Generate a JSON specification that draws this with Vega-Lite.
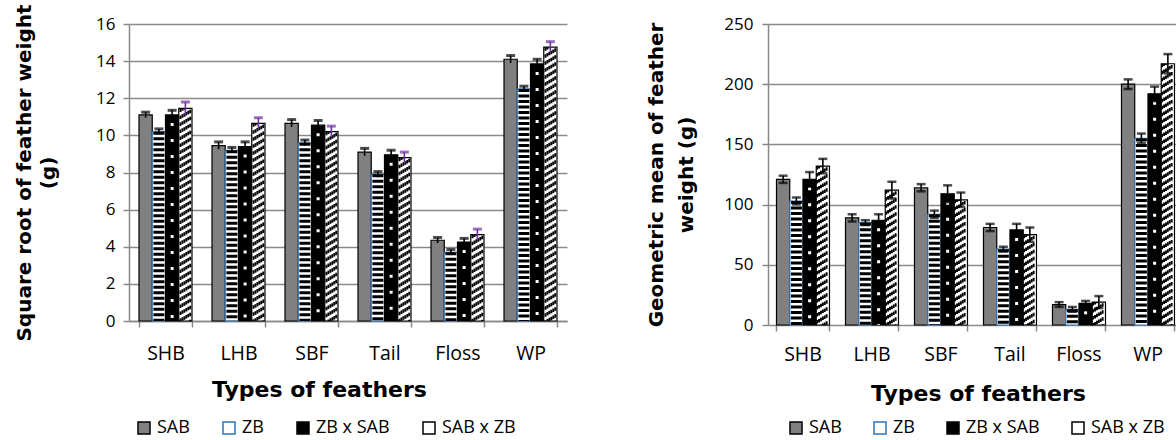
{
  "$schema": "https://vega.github.io/schema/vega-lite/v6.json",
  "padding": {"left": 14, "top": 3, "right": 0, "bottom": 0},
  "spacing": 79,
  "config": {
    "view": {"stroke": null},
    "font": "Open Sans",
    "axis": {
      "labelFont": "Open Sans", "labelColor": "#000",
      "titleFont": "DejaVu Sans", "titleFontWeight": "bold", "titleColor": "#000",
      "domainColor": "#888", "tickColor": "#888", "gridColor": "#8a8a8a",
      "domainWidth": 1.5, "tickWidth": 1.5, "gridWidth": 1.4, "tickSize": 6
    },
    "axisX": {"grid": false, "labelAngle": 0, "labelFontSize": 19.5, "titleFontSize": 22},
    "axisY": {"grid": true, "labelFontSize": 17, "titleFontSize": 20},
    "legend": {"labelFont": "Open Sans", "labelFontSize": 18, "labelColor": "#000"}
  },
  "resolve": {
    "scale": {"fill": "independent", "stroke": "independent"},
    "legend": {"fill": "independent", "stroke": "independent"}
  },
  "datasets": {
    "sqrt": [
      {"cat": "SHB", "series": "SAB", "value": 11.1, "lo": 10.95, "hi": 11.25},
      {"cat": "SHB", "series": "ZB", "value": 10.2, "lo": 10.05, "hi": 10.35},
      {"cat": "SHB", "series": "ZB x SAB", "value": 11.1, "lo": 10.85, "hi": 11.35},
      {"cat": "SHB", "series": "SAB x ZB", "value": 11.45, "lo": 11.1, "hi": 11.8},
      {"cat": "LHB", "series": "SAB", "value": 9.45, "lo": 9.25, "hi": 9.65},
      {"cat": "LHB", "series": "ZB", "value": 9.2, "lo": 9.05, "hi": 9.35},
      {"cat": "LHB", "series": "ZB x SAB", "value": 9.4, "lo": 9.15, "hi": 9.65},
      {"cat": "LHB", "series": "SAB x ZB", "value": 10.65, "lo": 10.35, "hi": 10.95},
      {"cat": "SBF", "series": "SAB", "value": 10.65, "lo": 10.45, "hi": 10.85},
      {"cat": "SBF", "series": "ZB", "value": 9.6, "lo": 9.45, "hi": 9.75},
      {"cat": "SBF", "series": "ZB x SAB", "value": 10.55, "lo": 10.3, "hi": 10.8},
      {"cat": "SBF", "series": "SAB x ZB", "value": 10.2, "lo": 9.9, "hi": 10.5},
      {"cat": "Tail", "series": "SAB", "value": 9.1, "lo": 8.9, "hi": 9.3},
      {"cat": "Tail", "series": "ZB", "value": 7.9, "lo": 7.75, "hi": 8.05},
      {"cat": "Tail", "series": "ZB x SAB", "value": 8.95, "lo": 8.7, "hi": 9.2},
      {"cat": "Tail", "series": "SAB x ZB", "value": 8.8, "lo": 8.5, "hi": 9.1},
      {"cat": "Floss", "series": "SAB", "value": 4.35, "lo": 4.2, "hi": 4.5},
      {"cat": "Floss", "series": "ZB", "value": 3.7, "lo": 3.55, "hi": 3.85},
      {"cat": "Floss", "series": "ZB x SAB", "value": 4.25, "lo": 4.05, "hi": 4.45},
      {"cat": "Floss", "series": "SAB x ZB", "value": 4.65, "lo": 4.35, "hi": 4.95},
      {"cat": "WP", "series": "SAB", "value": 14.1, "lo": 13.9, "hi": 14.3},
      {"cat": "WP", "series": "ZB", "value": 12.5, "lo": 12.35, "hi": 12.65},
      {"cat": "WP", "series": "ZB x SAB", "value": 13.85, "lo": 13.6, "hi": 14.1},
      {"cat": "WP", "series": "SAB x ZB", "value": 14.75, "lo": 14.45, "hi": 15.05}
    ],
    "geo": [
      {"cat": "SHB", "series": "SAB", "value": 121, "lo": 118, "hi": 124},
      {"cat": "SHB", "series": "ZB", "value": 103, "lo": 100, "hi": 106},
      {"cat": "SHB", "series": "ZB x SAB", "value": 121, "lo": 115, "hi": 127},
      {"cat": "SHB", "series": "SAB x ZB", "value": 132, "lo": 126, "hi": 138},
      {"cat": "LHB", "series": "SAB", "value": 89, "lo": 86, "hi": 92},
      {"cat": "LHB", "series": "ZB", "value": 85, "lo": 83, "hi": 87},
      {"cat": "LHB", "series": "ZB x SAB", "value": 87, "lo": 82, "hi": 92},
      {"cat": "LHB", "series": "SAB x ZB", "value": 112, "lo": 105, "hi": 119},
      {"cat": "SBF", "series": "SAB", "value": 114, "lo": 111, "hi": 117},
      {"cat": "SBF", "series": "ZB", "value": 92, "lo": 89, "hi": 95},
      {"cat": "SBF", "series": "ZB x SAB", "value": 109, "lo": 102, "hi": 116},
      {"cat": "SBF", "series": "SAB x ZB", "value": 104, "lo": 98, "hi": 110},
      {"cat": "Tail", "series": "SAB", "value": 81, "lo": 78, "hi": 84},
      {"cat": "Tail", "series": "ZB", "value": 63, "lo": 61, "hi": 65},
      {"cat": "Tail", "series": "ZB x SAB", "value": 79, "lo": 74, "hi": 84},
      {"cat": "Tail", "series": "SAB x ZB", "value": 75, "lo": 69, "hi": 81},
      {"cat": "Floss", "series": "SAB", "value": 17, "lo": 15, "hi": 19},
      {"cat": "Floss", "series": "ZB", "value": 13, "lo": 11, "hi": 15},
      {"cat": "Floss", "series": "ZB x SAB", "value": 18, "lo": 16, "hi": 20},
      {"cat": "Floss", "series": "SAB x ZB", "value": 19, "lo": 14, "hi": 24},
      {"cat": "WP", "series": "SAB", "value": 200, "lo": 196, "hi": 204},
      {"cat": "WP", "series": "ZB", "value": 155, "lo": 151, "hi": 159},
      {"cat": "WP", "series": "ZB x SAB", "value": 192, "lo": 186, "hi": 198},
      {"cat": "WP", "series": "SAB x ZB", "value": 217, "lo": 209, "hi": 225}
    ]
  },
  "hconcat": [
    {
      "width": 438,
      "height": 297,
      "data": {"name": "sqrt"},
      "encoding": {
        "x": {
          "field": "cat", "type": "nominal",
          "sort": ["SHB", "LHB", "SBF", "Tail", "Floss", "WP"],
          "scale": {"paddingInner": 0.274, "paddingOuter": 0.137},
          "axis": {"title": "Types of feathers", "tickBand": "extent", "labelPadding": 17, "titlePadding": 17, "titleX": 190}
        }
      },
      "layer": [
        {
          "mark": {"type": "bar", "strokeWidth": 1.2},
          "encoding": {
            "xOffset": {"field": "series", "type": "nominal", "scale": {"domain": ["SAB", "ZB", "ZB x SAB", "SAB x ZB"], "paddingInner": 0, "paddingOuter": 0}},
            "y": {"field": "value", "type": "quantitative", "title": ["Square root of feather weight", "(g)"],
                  "scale": {"domain": [0, 16], "nice": false},
                  "axis": {"values": [0, 2, 4, 6, 8, 10, 12, 14, 16], "labelPadding": 8, "titlePadding": 37, "titleLineHeight": 24}},
            "fill": {"field": "series", "type": "nominal",
                     "scale": {"domain": ["SAB", "ZB", "ZB x SAB", "SAB x ZB"], "range": ["#808080", "#ffffff", "#000000", "#ffffff"]},
                     "legend": {"title": null, "orient": "none", "legendX": 6, "legendY": 395, "direction": "horizontal", "columns": 4, "symbolType": "square", "symbolSize": 144, "symbolStrokeWidth": 1.5, "columnPadding": 30, "labelOffset": 4}},
            "stroke": {"field": "series", "type": "nominal",
                       "scale": {"domain": ["SAB", "ZB", "ZB x SAB", "SAB x ZB"], "range": ["#000000", "#2E75B6", "#000000", "#000000"]},
                       "legend": {"title": null, "orient": "none", "legendX": 6, "legendY": 395, "direction": "horizontal", "columns": 4, "symbolType": "square", "symbolSize": 144, "symbolStrokeWidth": 1.5, "columnPadding": 30, "labelOffset": 4}}
          }
        },
        {
          "transform": [{"filter": "datum.series == 'ZB'"}],
          "mark": {"type": "rule", "strokeWidth": 11, "strokeDash": [3, 2.5], "color": "#000"},
          "encoding": {
            "xOffset": {"field": "series", "type": "nominal"},
            "y": {"field": "value", "type": "quantitative", "title": ["Square root of feather weight", "(g)"], "axis": {"values": [0, 2, 4, 6, 8, 10, 12, 14, 16], "labelPadding": 8, "titlePadding": 37, "titleLineHeight": 24}},
            "y2": {"datum": 0}
          }
        },
        {
          "transform": [{"filter": "datum.series == 'ZB x SAB'"}],
          "mark": {"type": "rule", "strokeWidth": 3, "strokeDash": [3, 13], "strokeDashOffset": -8, "color": "#fff"},
          "encoding": {
            "xOffset": {"field": "series", "type": "nominal"},
            "y": {"field": "value", "type": "quantitative", "title": ["Square root of feather weight", "(g)"], "axis": {"values": [0, 2, 4, 6, 8, 10, 12, 14, 16], "labelPadding": 8, "titlePadding": 37, "titleLineHeight": 24}},
            "y2": {"datum": 0}
          }
        },
        {"transform": [{"filter": "datum.series == 'SAB x ZB'"}],
         "mark": {"type": "rule", "strokeWidth": 1.95, "strokeDash": [3.5, 3.5], "strokeDashOffset": 0, "color": "#000", "xOffset": 15.0},
         "encoding": {"y": {"field": "value", "type": "quantitative", "title": ["Square root of feather weight", "(g)"], "axis": {"values": [0, 2, 4, 6, 8, 10, 12, 14, 16], "labelPadding": 8, "titlePadding": 37, "titleLineHeight": 24}}, "y2": {"datum": 0}}},
        {"transform": [{"filter": "datum.series == 'SAB x ZB'"}],
         "mark": {"type": "rule", "strokeWidth": 1.95, "strokeDash": [3.5, 3.5], "strokeDashOffset": 1.17, "color": "#000", "xOffset": 16.95},
         "encoding": {"y": {"field": "value", "type": "quantitative", "title": ["Square root of feather weight", "(g)"], "axis": {"values": [0, 2, 4, 6, 8, 10, 12, 14, 16], "labelPadding": 8, "titlePadding": 37, "titleLineHeight": 24}}, "y2": {"datum": 0}}},
        {"transform": [{"filter": "datum.series == 'SAB x ZB'"}],
         "mark": {"type": "rule", "strokeWidth": 1.95, "strokeDash": [3.5, 3.5], "strokeDashOffset": 2.33, "color": "#000", "xOffset": 18.9},
         "encoding": {"y": {"field": "value", "type": "quantitative", "title": ["Square root of feather weight", "(g)"], "axis": {"values": [0, 2, 4, 6, 8, 10, 12, 14, 16], "labelPadding": 8, "titlePadding": 37, "titleLineHeight": 24}}, "y2": {"datum": 0}}},
        {"transform": [{"filter": "datum.series == 'SAB x ZB'"}],
         "mark": {"type": "rule", "strokeWidth": 1.95, "strokeDash": [3.5, 3.5], "strokeDashOffset": 3.5, "color": "#000", "xOffset": 20.85},
         "encoding": {"y": {"field": "value", "type": "quantitative", "title": ["Square root of feather weight", "(g)"], "axis": {"values": [0, 2, 4, 6, 8, 10, 12, 14, 16], "labelPadding": 8, "titlePadding": 37, "titleLineHeight": 24}}, "y2": {"datum": 0}}},
        {"transform": [{"filter": "datum.series == 'SAB x ZB'"}],
         "mark": {"type": "rule", "strokeWidth": 1.95, "strokeDash": [3.5, 3.5], "strokeDashOffset": 4.67, "color": "#000", "xOffset": 22.8},
         "encoding": {"y": {"field": "value", "type": "quantitative", "title": ["Square root of feather weight", "(g)"], "axis": {"values": [0, 2, 4, 6, 8, 10, 12, 14, 16], "labelPadding": 8, "titlePadding": 37, "titleLineHeight": 24}}, "y2": {"datum": 0}}},
        {"transform": [{"filter": "datum.series == 'SAB x ZB'"}],
         "mark": {"type": "rule", "strokeWidth": 1.95, "strokeDash": [3.5, 3.5], "strokeDashOffset": 5.83, "color": "#000", "xOffset": 24.75},
         "encoding": {"y": {"field": "value", "type": "quantitative", "title": ["Square root of feather weight", "(g)"], "axis": {"values": [0, 2, 4, 6, 8, 10, 12, 14, 16], "labelPadding": 8, "titlePadding": 37, "titleLineHeight": 24}}, "y2": {"datum": 0}}},
        {
          "mark": {"type": "rule", "strokeWidth": 1.6},
          "encoding": {
            "xOffset": {"field": "series", "type": "nominal"},
            "y": {"field": "lo", "type": "quantitative", "title": ["Square root of feather weight", "(g)"], "axis": {"values": [0, 2, 4, 6, 8, 10, 12, 14, 16], "labelPadding": 8, "titlePadding": 37, "titleLineHeight": 24}},
            "y2": {"field": "hi"},
            "color": {"condition": {"test": "datum.series == 'SAB x ZB'", "value": "#7030A0"}, "value": "#000"}
          }
        },
        {
          "mark": {"type": "tick", "thickness": 3, "size": 9},
          "encoding": {
            "xOffset": {"field": "series", "type": "nominal"},
            "y": {"field": "hi", "type": "quantitative", "title": ["Square root of feather weight", "(g)"], "axis": {"values": [0, 2, 4, 6, 8, 10, 12, 14, 16], "labelPadding": 8, "titlePadding": 37, "titleLineHeight": 24}},
            "color": {"condition": {"test": "datum.series == 'SAB x ZB'", "value": "#7030A0"}, "value": "#000"}
          }
        }
      ]
    },
    {
      "width": 406,
      "height": 301,
      "data": {"name": "geo"},
      "encoding": {
        "x": {
          "field": "cat", "type": "nominal",
          "sort": ["SHB", "LHB", "SBF", "Tail", "Floss", "WP"],
          "scale": {"range": [0, 414], "paddingInner": 0.246, "paddingOuter": 0.123},
          "axis": {"title": "Types of feathers", "tickBand": "extent", "domain": false, "labelPadding": 14, "titlePadding": 20, "titleX": 210}
        }
      },
      "layer": [
        {
          "mark": {"type": "bar", "strokeWidth": 1.2},
          "encoding": {
            "xOffset": {"field": "series", "type": "nominal", "scale": {"domain": ["SAB", "ZB", "ZB x SAB", "SAB x ZB"], "paddingInner": 0, "paddingOuter": 0}},
            "y": {"field": "value", "type": "quantitative", "title": ["Geometric mean of feather", "weight (g)"],
                  "scale": {"domain": [0, 250], "nice": false},
                  "axis": {"values": [0, 50, 100, 150, 200, 250], "labelPadding": 9, "titlePadding": 27, "titleLineHeight": 30}},
            "fill": {"field": "series", "type": "nominal",
                     "scale": {"domain": ["SAB", "ZB", "ZB x SAB", "SAB x ZB"], "range": ["#808080", "#ffffff", "#000000", "#ffffff"]},
                     "legend": {"title": null, "orient": "none", "legendX": 19, "legendY": 395, "direction": "horizontal", "columns": 4, "symbolType": "square", "symbolSize": 144, "symbolStrokeWidth": 1.5, "columnPadding": 29, "labelOffset": 4}},
            "stroke": {"field": "series", "type": "nominal",
                       "scale": {"domain": ["SAB", "ZB", "ZB x SAB", "SAB x ZB"], "range": ["#000000", "#2E75B6", "#000000", "#000000"]},
                       "legend": {"title": null, "orient": "none", "legendX": 19, "legendY": 395, "direction": "horizontal", "columns": 4, "symbolType": "square", "symbolSize": 144, "symbolStrokeWidth": 1.5, "columnPadding": 29, "labelOffset": 4}}
          }
        },
        {
          "transform": [{"filter": "datum.series == 'ZB'"}],
          "mark": {"type": "rule", "strokeWidth": 11, "strokeDash": [3, 2.5], "color": "#000"},
          "encoding": {
            "xOffset": {"field": "series", "type": "nominal"},
            "y": {"field": "value", "type": "quantitative", "title": ["Geometric mean of feather", "weight (g)"], "axis": {"values": [0, 50, 100, 150, 200, 250], "labelPadding": 9, "titlePadding": 27, "titleLineHeight": 30}},
            "y2": {"datum": 0}
          }
        },
        {
          "transform": [{"filter": "datum.series == 'ZB x SAB'"}],
          "mark": {"type": "rule", "strokeWidth": 3, "strokeDash": [3, 13], "strokeDashOffset": -8, "color": "#fff"},
          "encoding": {
            "xOffset": {"field": "series", "type": "nominal"},
            "y": {"field": "value", "type": "quantitative", "title": ["Geometric mean of feather", "weight (g)"], "axis": {"values": [0, 50, 100, 150, 200, 250], "labelPadding": 9, "titlePadding": 27, "titleLineHeight": 30}},
            "y2": {"datum": 0}
          }
        },
        {"transform": [{"filter": "datum.series == 'SAB x ZB'"}],
         "mark": {"type": "rule", "strokeWidth": 1.9, "strokeDash": [3.5, 3.5], "strokeDashOffset": 0, "color": "#000", "xOffset": 14.65},
         "encoding": {"y": {"field": "value", "type": "quantitative", "title": ["Geometric mean of feather", "weight (g)"], "axis": {"values": [0, 50, 100, 150, 200, 250], "labelPadding": 9, "titlePadding": 27, "titleLineHeight": 30}}, "y2": {"datum": 0}}},
        {"transform": [{"filter": "datum.series == 'SAB x ZB'"}],
         "mark": {"type": "rule", "strokeWidth": 1.9, "strokeDash": [3.5, 3.5], "strokeDashOffset": 1.17, "color": "#000", "xOffset": 16.55},
         "encoding": {"y": {"field": "value", "type": "quantitative", "title": ["Geometric mean of feather", "weight (g)"], "axis": {"values": [0, 50, 100, 150, 200, 250], "labelPadding": 9, "titlePadding": 27, "titleLineHeight": 30}}, "y2": {"datum": 0}}},
        {"transform": [{"filter": "datum.series == 'SAB x ZB'"}],
         "mark": {"type": "rule", "strokeWidth": 1.9, "strokeDash": [3.5, 3.5], "strokeDashOffset": 2.33, "color": "#000", "xOffset": 18.45},
         "encoding": {"y": {"field": "value", "type": "quantitative", "title": ["Geometric mean of feather", "weight (g)"], "axis": {"values": [0, 50, 100, 150, 200, 250], "labelPadding": 9, "titlePadding": 27, "titleLineHeight": 30}}, "y2": {"datum": 0}}},
        {"transform": [{"filter": "datum.series == 'SAB x ZB'"}],
         "mark": {"type": "rule", "strokeWidth": 1.9, "strokeDash": [3.5, 3.5], "strokeDashOffset": 3.5, "color": "#000", "xOffset": 20.35},
         "encoding": {"y": {"field": "value", "type": "quantitative", "title": ["Geometric mean of feather", "weight (g)"], "axis": {"values": [0, 50, 100, 150, 200, 250], "labelPadding": 9, "titlePadding": 27, "titleLineHeight": 30}}, "y2": {"datum": 0}}},
        {"transform": [{"filter": "datum.series == 'SAB x ZB'"}],
         "mark": {"type": "rule", "strokeWidth": 1.9, "strokeDash": [3.5, 3.5], "strokeDashOffset": 4.67, "color": "#000", "xOffset": 22.25},
         "encoding": {"y": {"field": "value", "type": "quantitative", "title": ["Geometric mean of feather", "weight (g)"], "axis": {"values": [0, 50, 100, 150, 200, 250], "labelPadding": 9, "titlePadding": 27, "titleLineHeight": 30}}, "y2": {"datum": 0}}},
        {"transform": [{"filter": "datum.series == 'SAB x ZB'"}],
         "mark": {"type": "rule", "strokeWidth": 1.9, "strokeDash": [3.5, 3.5], "strokeDashOffset": 5.83, "color": "#000", "xOffset": 24.15},
         "encoding": {"y": {"field": "value", "type": "quantitative", "title": ["Geometric mean of feather", "weight (g)"], "axis": {"values": [0, 50, 100, 150, 200, 250], "labelPadding": 9, "titlePadding": 27, "titleLineHeight": 30}}, "y2": {"datum": 0}}},
        {
          "mark": {"type": "rule", "strokeWidth": 1.6, "color": "#000"},
          "encoding": {
            "xOffset": {"field": "series", "type": "nominal"},
            "y": {"field": "lo", "type": "quantitative", "title": ["Geometric mean of feather", "weight (g)"], "axis": {"values": [0, 50, 100, 150, 200, 250], "labelPadding": 9, "titlePadding": 27, "titleLineHeight": 30}},
            "y2": {"field": "hi"}
          }
        },
        {
          "mark": {"type": "tick", "thickness": 2.5, "size": 9, "color": "#000"},
          "encoding": {
            "xOffset": {"field": "series", "type": "nominal"},
            "y": {"field": "hi", "type": "quantitative", "title": ["Geometric mean of feather", "weight (g)"], "axis": {"values": [0, 50, 100, 150, 200, 250], "labelPadding": 9, "titlePadding": 27, "titleLineHeight": 30}}
          }
        },
        {
          "mark": {"type": "tick", "thickness": 2.5, "size": 9, "color": "#000"},
          "encoding": {
            "xOffset": {"field": "series", "type": "nominal"},
            "y": {"field": "lo", "type": "quantitative", "title": ["Geometric mean of feather", "weight (g)"], "axis": {"values": [0, 50, 100, 150, 200, 250], "labelPadding": 9, "titlePadding": 27, "titleLineHeight": 30}}
          }
        }
      ]
    }
  ]
}
